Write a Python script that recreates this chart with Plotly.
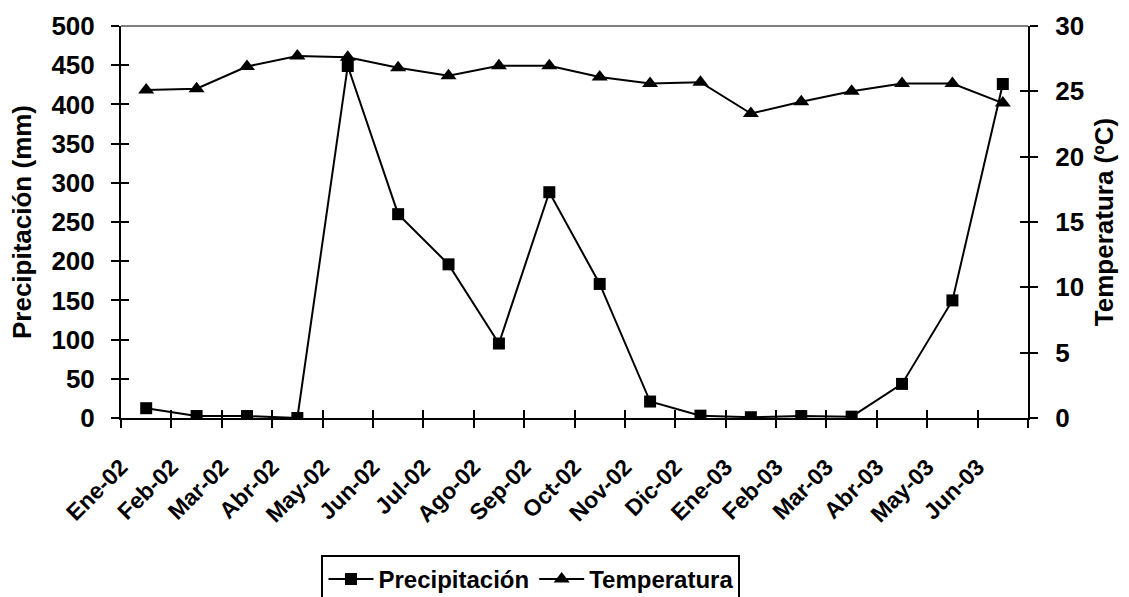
import plotly.graph_objects as go

months = ["Ene-02", "Feb-02", "Mar-02", "Abr-02", "May-02", "Jun-02", "Jul-02", "Ago-02",
          "Sep-02", "Oct-02", "Nov-02", "Dic-02", "Ene-03", "Feb-03", "Mar-03", "Abr-03",
          "May-03", "Jun-03"]
precip = [12.5, 2.5, 2.5, 0, 449, 260, 196, 95, 288, 171, 21, 3, 1, 2.5, 1.7, 43.5, 150, 426]
temp = [25.1, 25.2, 26.9, 27.7, 27.6, 26.8, 26.2, 26.95, 26.95, 26.1, 25.6, 25.7, 23.3, 24.2,
        25.0, 25.6, 25.6, 24.1]

precip_ticks = list(range(0, 501, 50))
temp_ticks = list(range(0, 31, 5))

FONT = "Liberation Sans, Arial, sans-serif"
n = len(months)
boundaries = [i - 0.5 for i in range(n + 1)]
label_pos = [i - 0.5 for i in range(n)]

fig = go.Figure()
fig.add_trace(go.Scatter(
    x=months, y=precip, name="Precipitación", mode="lines+markers",
    line=dict(color="black", width=2),
    marker=dict(symbol="square", size=12, color="black"),
    xaxis="x", yaxis="y"))
fig.add_trace(go.Scatter(
    x=months, y=temp, name="Temperatura", mode="lines+markers",
    line=dict(color="black", width=2),
    marker=dict(symbol="triangle-up", size=14, color="black"),
    xaxis="x", yaxis="y2"))

# empty helper traces so that the overlay axes (inner tick halves, shifted labels) are drawn
for xa, ya in [("x2", "y"), ("x3", "y"), ("x", "y3"), ("x", "y4")]:
    fig.add_trace(go.Scatter(x=[None], y=[None], xaxis=xa, yaxis=ya, mode="markers",
                             showlegend=False, hoverinfo="skip"))

tickfont = dict(family=FONT, size=26, color="black", weight="bold")
xtickfont = dict(family=FONT, size=23, color="black", weight="bold")
titlefont = dict(family=FONT, size=26, color="black", weight="bold")

fig.update_layout(
    width=1129, height=597,
    margin=dict(l=121, r=101, t=26, b=179, autoexpand=False),
    plot_bgcolor="white", paper_bgcolor="white",
    font=dict(family=FONT, color="black"),
    xaxis=dict(type="category", categoryorder="array", categoryarray=months,
               range=[-0.5, n - 0.5], tickson="boundaries", ticks="outside",
               ticklen=8, tickwidth=2, tickcolor="black", showticklabels=False,
               showline=True, linewidth=2, linecolor="black", showgrid=False,
               zeroline=False, automargin=False),
    xaxis2=dict(type="linear", overlaying="x", anchor="y", side="bottom",
                range=[-0.5, n - 0.5], tickmode="array", tickvals=boundaries,
                ticks="inside", ticklen=8, tickwidth=2, tickcolor="black",
                showticklabels=False, showline=False, showgrid=False, zeroline=False,
                automargin=False),
    xaxis3=dict(type="linear", overlaying="x", anchor="y", side="bottom",
                range=[-0.5, n - 0.5], tickmode="array", tickvals=label_pos,
                ticktext=months, tickangle=-45, ticks="", tickfont=xtickfont,
                ticklabelstandoff=30, automargin=False,
                showline=False, showgrid=False, zeroline=False),
    yaxis=dict(range=[0, 500], tickmode="array", tickvals=precip_ticks,
               ticks="outside", ticklen=8, tickwidth=2, tickcolor="black",
               tickfont=tickfont, ticklabelstandoff=11,
               showline=True, linewidth=2, linecolor="black",
               showgrid=False, zeroline=False, automargin=False,
               title=dict(text="Precipitación (mm)", font=titlefont, standoff=12)),
    yaxis3=dict(range=[0, 500], overlaying="y", anchor="x", side="left",
                tickmode="array", tickvals=precip_ticks, ticks="inside", ticklen=8,
                tickwidth=2, tickcolor="black", showticklabels=False,
                showline=False, showgrid=False, zeroline=False, automargin=False),
    yaxis2=dict(range=[0, 30], overlaying="y", anchor="x", side="right",
                tickmode="array", tickvals=temp_ticks, ticks="outside", ticklen=8,
                tickwidth=2, tickcolor="black", tickfont=tickfont, ticklabelstandoff=12,
                showline=True, linewidth=2, linecolor="black",
                showgrid=False, zeroline=False, automargin=False,
                title=dict(text="Temperatura (ºC)", font=titlefont, standoff=12)),
    yaxis4=dict(range=[0, 30], overlaying="y", anchor="x", side="right",
                tickmode="array", tickvals=temp_ticks, ticks="inside", ticklen=8,
                tickwidth=2, tickcolor="black", showticklabels=False,
                showline=False, showgrid=False, zeroline=False, automargin=False),
    legend=dict(orientation="h", x=0.452, xanchor="center", y=-0.349, yanchor="top",
                bordercolor="black", borderwidth=2, bgcolor="white", itemwidth=45,
                font=dict(family=FONT, size=24, color="black", weight="bold")),
    shapes=[dict(type="line", xref="paper", yref="paper", x0=0, x1=1, y0=1, y1=1,
                 line=dict(color="#808080", width=2), layer="below")],
)

fig.write_html("out.html", config={"displayModeBar": False},
               post_script="document.body.style.margin='0px';")
